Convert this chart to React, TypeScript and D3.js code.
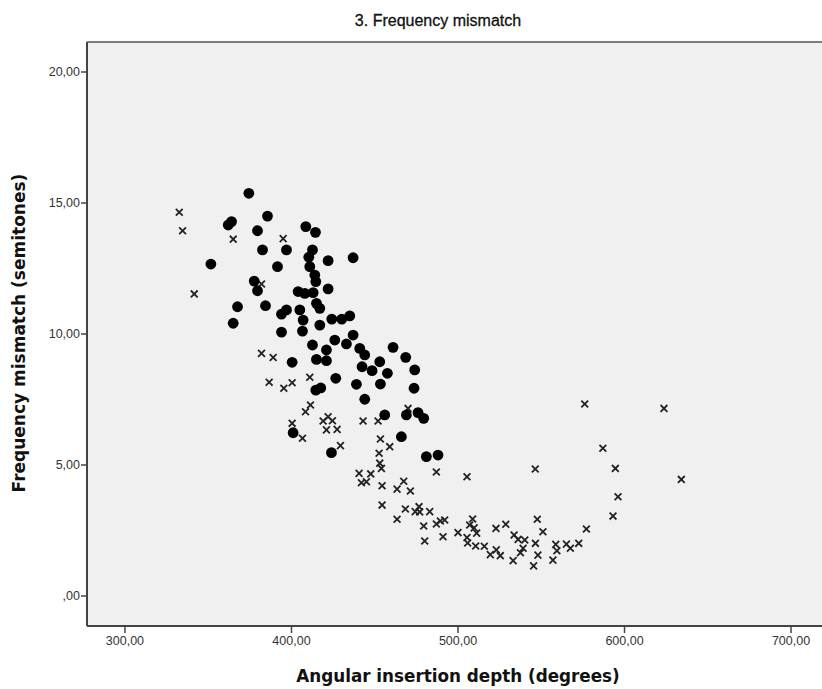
import React from "react";
import * as d3 from "d3";

// group shown with filled circles
const circleDepth = [
  374.4, 385.6, 362.0, 364.0, 379.6, 408.6, 414.4, 382.6, 397.0, 412.6,
  410.4, 422.0, 411.0, 391.6, 351.6, 414.0, 414.6, 377.6, 379.6, 404.0,
  408.0, 413.0, 422.0, 415.0, 417.0, 367.6, 384.4, 394.0, 397.0, 405.0,
  365.0, 407.0, 417.0, 424.2, 437.0, 430.2, 435.0, 437.0, 426.0, 433.0,
  421.0, 441.0, 444.0, 461.0, 468.6, 453.0, 442.4, 448.4, 457.6, 474.0,
  426.6, 439.0, 453.4, 473.6, 414.6, 417.6, 444.0, 456.0, 469.0, 476.0,
  479.4, 466.0, 424.0, 481.0, 488.0, 394.0, 406.6, 412.6, 415.0, 421.0,
  400.4, 401.0,
];
const circleMismatch = [
  15.37, 14.5, 14.16, 14.29, 13.94, 14.1, 13.88, 13.21, 13.21, 13.21,
  12.93, 12.8, 12.57, 12.57, 12.67, 12.25, 12.0, 12.02, 11.65, 11.62,
  11.55, 11.58, 11.72, 11.17, 10.98, 11.04, 11.08, 10.76, 10.92, 10.92,
  10.41, 10.53, 10.34, 10.57, 12.91, 10.57, 10.69, 9.96, 9.77, 9.62,
  9.39, 9.45, 9.2, 9.49, 9.11, 8.94, 8.75, 8.6, 8.5, 8.63,
  8.31, 8.08, 8.09, 7.93, 7.86, 7.94, 7.51, 6.91, 6.91, 7.0,
  6.78, 6.08, 5.47, 5.32, 5.38, 10.07, 10.11, 9.58, 9.03, 8.98,
  8.92, 6.23,
];

// group shown with crosses
const crossDepth = [
  332.6, 334.6, 365.0, 395.0, 382.0, 341.6, 382.0, 389.0, 386.6, 395.4,
  400.4, 411.0, 411.4, 408.4, 400.4, 406.6, 419.0, 421.0, 422.0, 424.6,
  427.4, 443.0, 452.0, 470.0, 453.4, 459.0, 429.4, 452.6, 453.0, 454.0,
  440.6, 447.6, 442.0, 445.0, 454.4, 463.4, 467.4, 471.4, 454.4, 468.4,
  476.6, 474.3, 477.0, 483.0, 463.4, 479.4, 487.0, 489.4, 492.0, 487.0,
  505.4, 500.0, 491.0, 480.0, 505.4, 505.8, 508.8, 507.0, 509.7, 511.2,
  510.6, 515.8, 522.8, 519.4, 523.0, 525.4, 546.4, 576.1, 623.7, 587.0,
  594.5, 634.1, 596.1, 593.1, 577.1, 547.6, 551.0, 528.7, 533.7, 536.1,
  540.1, 533.1, 539.1, 537.5, 546.5, 548.0, 545.4, 557.0, 558.7, 559.4,
  565.1, 567.5, 572.5,
];
const crossMismatch = [
  14.65, 13.94, 13.62, 13.64, 11.91, 11.53, 9.26, 9.1, 8.16, 7.93,
  8.14, 8.35, 7.29, 7.03, 6.59, 6.02, 6.68, 6.34, 6.84, 6.69,
  6.36, 6.68, 6.68, 7.16, 5.99, 5.7, 5.74, 5.45, 5.07, 4.87,
  4.68, 4.66, 4.32, 4.36, 4.21, 4.08, 4.38, 4.01, 3.47, 3.32,
  3.41, 3.22, 3.21, 3.22, 2.93, 2.67, 2.75, 2.86, 2.9, 4.73,
  4.55, 2.42, 2.26, 2.1, 2.23, 2.02, 2.94, 2.71, 2.6, 2.4,
  1.91, 1.9, 2.58, 1.58, 1.76, 1.54, 4.85, 7.33, 7.16, 5.64,
  4.87, 4.45, 3.79, 3.05, 2.56, 2.93, 2.45, 2.74, 2.33, 2.16,
  2.14, 1.35, 1.82, 1.65, 2.01, 1.56, 1.15, 1.37, 1.97, 1.73,
  1.98, 1.82, 2.01,
];

const xTicks = [300, 400, 500, 600, 700];
const yTicks = [0, 5, 10, 15, 20];

const W = 822;
const H = 689;
const left = 87;
const top = 42;
const right = 829;
const bottom = 626;

const fmt = (v: number) => {
  const s = d3.format(".2f")(v).replace(".", ",");
  return s.startsWith("0,") ? s.slice(1) : s;
};

export default function App() {
  const x = d3.scaleLinear().domain([277.2, 722.8]).range([left, right]);
  const y = d3.scaleLinear().domain([-1.145, 21.145]).range([bottom, top]);
  const cross = d3.symbol(d3.symbolTimes, 32)()!;
  const font = "'Liberation Sans', Arial, sans-serif";
  const titleFont = "'DejaVu Sans', Verdana, sans-serif";

  return (
    <svg
      width={W}
      height={H}
      style={{ position: "absolute", left: 0, top: 0, background: "#fff" }}
      fontFamily={font}
    >
      <rect x={left} y={top} width={right - left} height={bottom - top} fill="#f0f0f0" />
      <line x1={left} x2={right} y1={top} y2={top} stroke="#555" strokeWidth={1.5} />
      <line x1={left} x2={left} y1={top} y2={bottom} stroke="#444" strokeWidth={2} />
      <line x1={left} x2={right} y1={bottom} y2={bottom} stroke="#444" strokeWidth={2} />

      {yTicks.map((t) => (
        <g key={"y" + t}>
          <line x1={left - 6} x2={left} y1={y(t)} y2={y(t)} stroke="#444" strokeWidth={1.5} />
          <text x={left - 7} y={y(t)} dy="0.35em" textAnchor="end" fontSize={12.5} fill="#333">
            {fmt(t)}
          </text>
        </g>
      ))}
      {xTicks.map((t) => (
        <g key={"x" + t}>
          <line x1={x(t)} x2={x(t)} y1={bottom} y2={bottom + 7} stroke="#444" strokeWidth={1.5} />
          <text x={x(t)} y={bottom + 19} textAnchor="middle" fontSize={12.5} fill="#333">
            {fmt(t)}
          </text>
        </g>
      ))}

      {crossDepth.map((d, i) => (
        <path
          key={"c" + i}
          d={cross}
          transform={`translate(${x(d)},${y(crossMismatch[i])})`}
          fill="none"
          stroke="#222"
          strokeWidth={1.8}
        />
      ))}
      {circleDepth.map((d, i) => (
        <circle key={"o" + i} cx={x(d)} cy={y(circleMismatch[i])} r={5.4} fill="#000" />
      ))}

      <text x={438} y={26} textAnchor="middle" fontSize={16} fill="#111" stroke="#111" strokeWidth={0.3}>
        3. Frequency mismatch
      </text>
      <text x={458} y={682} textAnchor="middle" fontSize={16.8} fontWeight="bold" fill="#111" fontFamily={titleFont}>
        Angular insertion depth (degrees)
      </text>
      <text
        transform="translate(25,333) rotate(-90)"
        textAnchor="middle"
        fontSize={17}
        fontWeight="bold"
        fill="#111"
        fontFamily={titleFont}
      >
        Frequency mismatch (semitones)
      </text>
    </svg>
  );
}
